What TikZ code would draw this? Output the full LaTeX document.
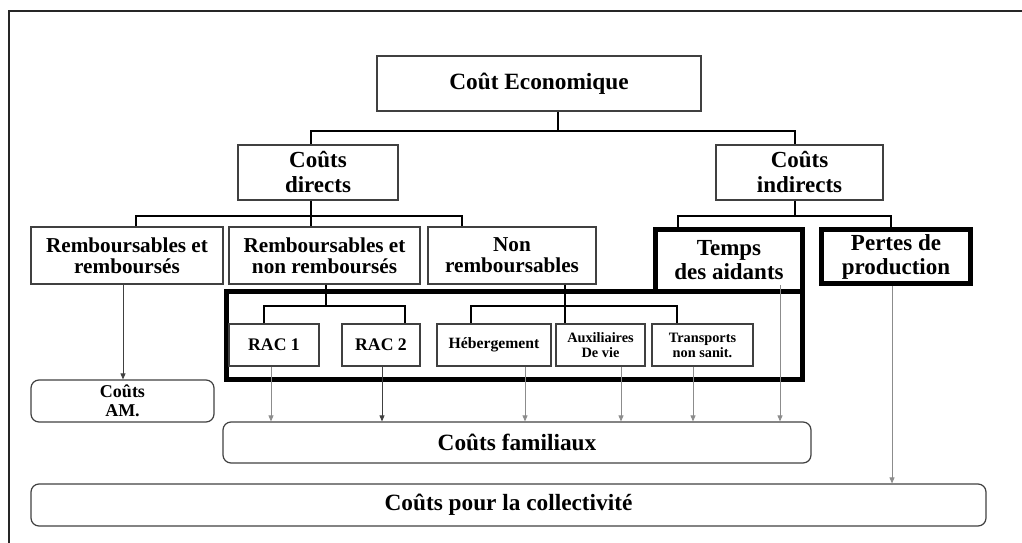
\documentclass[tikz,border=0pt]{standalone}
\usepackage{fontspec}
\setmainfont{Liberation Serif}
\usetikzlibrary{arrows.meta}

\tikzset{
  box/.style={draw=black!75, line width=1.2pt, inner sep=0pt, align=center,
    font=\bfseries\fontsize{21.2}{21}\selectfont},
  bigbox/.style={box, font=\bfseries\fontsize{23}{25}\selectfont},
  heavybox/.style={draw=black, line width=5pt, inner sep=0pt, align=center,
    font=\bfseries\fontsize{23}{24}\selectfont},
  smallbox/.style={box, minimum height=42pt, font=\bfseries\fontsize{14.3}{15}\selectfont},
  racbox/.style={smallbox, font=\bfseries\fontsize{17.7}{18}\selectfont},
  sumbox/.style={box, rounded corners=8pt, font=\bfseries\fontsize{23.3}{24}\selectfont},
  link/.style={draw=black, line width=2pt},
  arr/.style={draw=black!45, line width=0.8pt, -{Triangle[length=6pt,width=5pt]}},
  darkarr/.style={arr, draw=black!75},
}

\begin{document}
\begin{tikzpicture}[x=1pt,y=-1pt]
        \useasboundingbox (0,0) rectangle (1022,543);
        \draw[line width=2pt, black!85] (9,543) -- (9,11) -- (1022,11);

        % top of the tree
        \node[bigbox, minimum width=324pt, minimum height=55pt, font=\bfseries\fontsize{23.3}{24}\selectfont] (eco) at (539,83.5) {Coût Economique};
        \node[bigbox, minimum width=160pt, minimum height=55pt] (dir) at (318,172.5) {Coûts\\directs};
        \node[bigbox, minimum width=167pt, minimum height=55pt] (ind) at (799.5,172.5) {Coûts\\indirects};

        % third row
        \node[box, minimum width=192pt, minimum height=57pt] (rr) at (127,255.5) {Remboursables et\\remboursés};
        \node[box, minimum width=191pt, minimum height=57pt] (rnr) at (324.5,255.5) {Remboursables et\\non remboursés};
        \node[box, minimum width=168pt, minimum height=57pt] (nr) at (512,255.5) {Non\\remboursables};
        \node[heavybox, minimum width=147pt, minimum height=62pt] (temps) at (729,260.5) {Temps\\des aidants};
        \node[heavybox, minimum width=149pt, minimum height=54pt] (pertes) at (896,256.5) {Pertes de\\production};

        % heavy frame round the family costs
        \draw[line width=5pt] (226.5,291.5) rectangle (802.5,379.5);

        \node[racbox, minimum width=90pt] (rac1) at (274,345) {RAC 1};
        \node[racbox, minimum width=78pt] (rac2) at (381,345) {RAC 2};
        \node[smallbox, minimum width=114pt, font=\bfseries\fontsize{15.7}{16}\selectfont] (heb) at (494,345) {Hébergement};
        \node[smallbox, minimum width=89pt] (aux) at (600.5,345) {Auxiliaires\\De vie};
        \node[smallbox, minimum width=101pt] (trans) at (702.5,345) {Transports\\non sanit.};

        % totals
        \node[sumbox, minimum width=183pt, minimum height=42pt, font=\bfseries\fontsize{18}{19}\selectfont] (am) at (122.5,401) {Coûts\\AM.};
        \node[sumbox, minimum width=588pt, minimum height=41pt] (fam) at (517,442.5) {Coûts familiaux};
        \node[sumbox, minimum width=955pt, minimum height=42pt] (coll) at (508.5,505) {Coûts pour la collectivité};

        % tree links
        \draw[link] ([xshift=19pt]eco.south) -- ++(0,19) coordinate (e1);
        \draw[link] ([xshift=-7pt]dir.north) |- (e1) -| ([xshift=-4.5pt]ind.north);
        \draw[link] ([xshift=-7pt]dir.south) -- ++(0,15) coordinate (d1);
        \draw[link] ([xshift=9pt]rr.north) |- (d1) -| ([xshift=-50pt]nr.north);
        \draw[link] (d1) -- (d1 |- rnr.north);
        \draw[link] ([xshift=-4.5pt]ind.south) -- ++(0,15) coordinate (i1);
        \draw[link] ([xshift=-51pt]temps.north) |- (i1) -| ([xshift=-5pt]pertes.north);
        \draw[link] ([xshift=1.5pt]rnr.south) -- ++(0,21) coordinate (r1);
        \draw[link] ([xshift=-10pt]rac1.north) |- (r1) -| ([xshift=24pt]rac2.north);
        \draw[link] ([xshift=53pt]nr.south) -- ++(0,21) coordinate (n1) -- (n1 |- aux.north);
        \draw[link] ([xshift=-23pt]heb.north) |- (n1) -| ([xshift=-25.5pt]trans.north);

        % arrows to the totals
        \draw[darkarr] ([xshift=-4pt]rr.south) -- ([xshift=-4pt]rr.south |- am.north);
        \draw[arr] ([xshift=-3pt]rac1.south) -- ([xshift=-3pt]rac1.south |- fam.north);
        \draw[darkarr] ([xshift=1pt]rac2.south) -- ([xshift=1pt]rac2.south |- fam.north);
        \draw[arr] ([xshift=31pt]heb.south) -- ([xshift=31pt]heb.south |- fam.north);
        \draw[arr] ([xshift=20.5pt]aux.south) -- ([xshift=20.5pt]aux.south |- fam.north);
        \draw[arr] ([xshift=-9.5pt]trans.south) -- ([xshift=-9.5pt]trans.south |- fam.north);
        \draw[arr] ([xshift=51pt,yshift=9pt]temps.south) -- ([xshift=51pt]temps.south |- fam.north);
        \draw[arr] ([xshift=-4pt]pertes.south) -- ([xshift=-4pt]pertes.south |- coll.north);
\end{tikzpicture}
\end{document}
